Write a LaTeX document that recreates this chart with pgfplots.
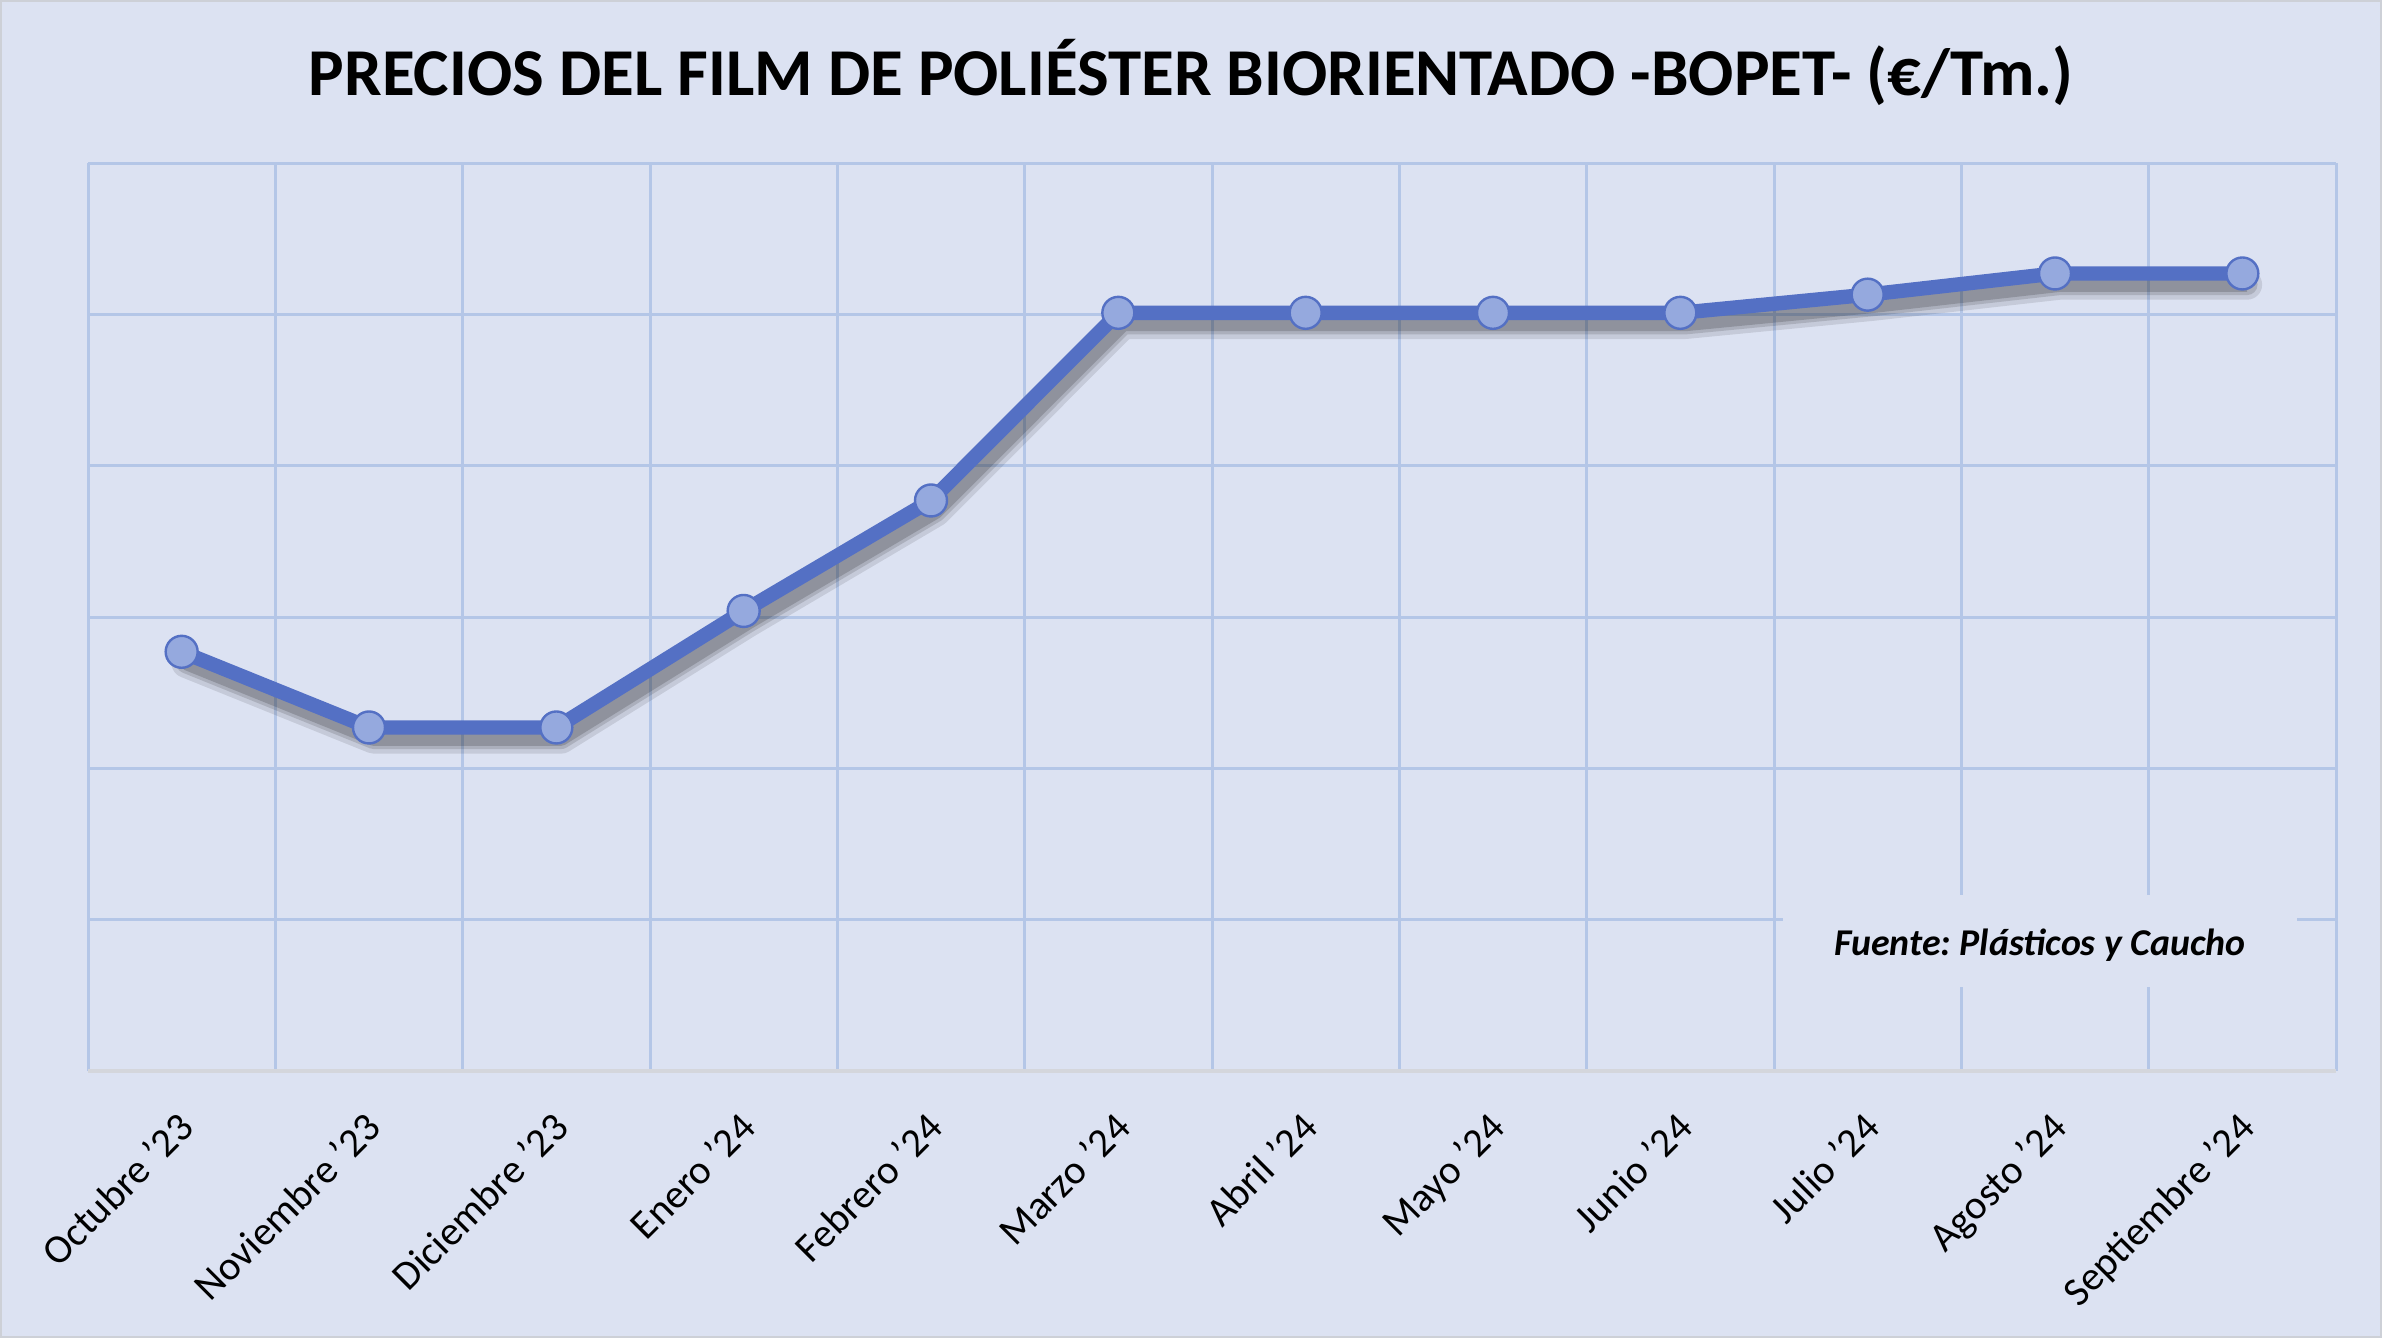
\documentclass[border=0pt]{standalone}
\usepackage{pgfplots}
\pgfplotsset{compat=1.18}
\usepackage{fontspec}
\setmainfont{Carlito}
\frenchspacing
\definecolor{bgcol}{RGB}{220,226,242}
\definecolor{gridcol}{RGB}{180,198,231}
\definecolor{linecol}{RGB}{84,112,196}
\definecolor{markfill}{RGB}{149,169,222}
\definecolor{axisgray}{RGB}{212,214,220}
\definecolor{framecol}{RGB}{205,208,215}
\pgfplotstableread{
x y
0 2.77
1 2.27
2 2.27
3 3.04
4 3.77
5 5.01
6 5.01
7 5.01
8 5.01
9 5.13
10 5.27
11 5.27
}\datatable
\begin{document}
\begin{tikzpicture}
\fill[bgcol] (0,0) rectangle (595.5bp,334.5bp);
\useasboundingbox (0,0) rectangle (595.5bp,334.5bp);
\draw[framecol, line width=0.5bp] (0.25bp,0.25bp) rectangle (595.25bp,334.25bp);
\node[font=\bfseries\fontsize{16.8}{20}\selectfont, anchor=center] at (297.75bp,316.5bp) {PRECIOS DEL FILM DE POLIÉSTER BIORIENTADO -BOPET- (€/Tm.)};
\begin{axis}[
  at={(22bp,66.75bp)}, anchor=south west,
  scale only axis, width=562bp, height=227bp,
  xmin=-0.5, xmax=11.5, ymin=0, ymax=6,
  xtick={0,...,11},
  xticklabels={Octubre '23,Noviembre '23,Diciembre '23,Enero '24,Febrero '24,Marzo '24,Abril '24,Mayo '24,Junio '24,Julio '24,Agosto '24,Septiembre '24},
  minor xtick={-0.5,0.5,...,11.5},
  xminorgrids=true, xmajorgrids=false,
  ytick={0,...,6}, yticklabels={},
  ymajorgrids=true,
  major tick length=0pt, minor tick length=0pt,
  axis line style={draw=none},
  major grid style={gridcol, line width=0.75bp},
  minor grid style={gridcol, line width=0.75bp},
  xticklabel style={font=\fontsize{10.2}{12}\selectfont, inner sep=0pt, anchor=north east, xshift=-1.5bp, yshift=-9.5bp, rotate=45},
  clip=false,
]
\draw[axisgray, line width=1bp] (axis cs:-0.5,0) -- (axis cs:11.5,0);
\node[fill=bgcol, minimum width=128.5bp, minimum height=23bp, inner sep=0pt] at (axis cs:9.92,0.86) {};
\node[inner sep=0pt, font=\bfseries\itshape\fontsize{9.5}{11}\selectfont] at (axis cs:9.92,0.83) {Fuente: Plásticos y Caucho};
\addplot[black, opacity=0.10, line width=7.5bp, line join=round, line cap=round, transform canvas={xshift=1.2bp, yshift=-2.8bp}] table[x=x,y=y] {\datatable};
\addplot[black, opacity=0.13, line width=5.2bp, line join=round, line cap=round, transform canvas={xshift=1.2bp, yshift=-2.8bp}] table[x=x,y=y] {\datatable};
\addplot[black, opacity=0.16, line width=3.6bp, line join=round, transform canvas={xshift=1.2bp, yshift=-2.8bp}] table[x=x,y=y] {\datatable};
\addplot[linecol, line width=3.6bp, line join=round, mark=*, mark size=4bp, mark options={fill=markfill, draw=linecol, line width=0.6bp}] table[x=x,y=y] {\datatable};
\end{axis}
\end{tikzpicture}
\end{document}
